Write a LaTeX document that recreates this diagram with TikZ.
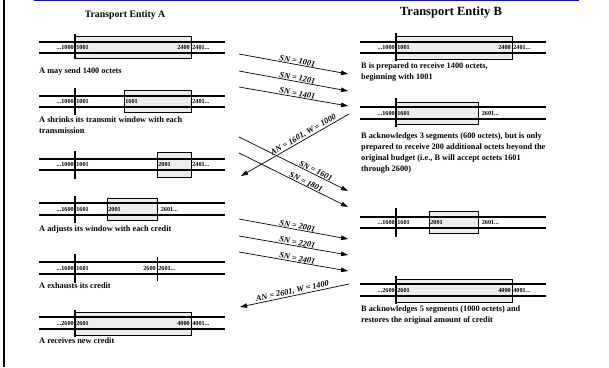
\documentclass[tikz,border=0pt]{standalone}
\usepackage{fontspec}
\setmainfont{Liberation Serif}
\usetikzlibrary{arrows.meta}
\begin{document}
\begin{tikzpicture}[x=1pt,y=-1pt,
  trk/.style={line width=1.2pt},
  barline/.style={line width=1.5pt},
  win/.style={draw,line width=0.7pt,fill=gray!15},
  num/.style={font=\fontsize{6.2}{7}\selectfont\bfseries,inner sep=0.6pt},
  capt/.style={font=\fontsize{8.3}{11}\selectfont\bfseries,anchor=base west,align=left,inner sep=0pt},
  msg/.style={line width=0.7pt,-{Triangle[length=7pt,width=4.5pt]}},
  msgrev/.style={line width=0.7pt,{Triangle[length=7pt,width=4.5pt]}-},
  mlab/.style={font=\fontsize{8.3}{9}\selectfont\bfseries\itshape,sloped,above,inner sep=0.6pt},
  ttl/.style={font=\bfseries}]
\useasboundingbox (0,0) rectangle (609,367);
\fill[white] (0,0) rectangle (609,367);
% frame pieces
\coordinate (fl1) at (3.5,0); \coordinate (fl2) at (3.5,367);
\draw[line width=2pt] (fl1) -- (fl2);
\coordinate (fb1) at (34,0.7); \coordinate (fb2) at (579,0.7);
\draw[blue,line width=1.4pt] (fb1) -- (fb2);
% titles
\node[ttl,font=\fontsize{9.8}{11}\selectfont\bfseries] (tA) at (125,15) {Transport Entity A};
\node[ttl,font=\fontsize{12.5}{14}\selectfont\bfseries] (tB) at (451,13) {Transport Entity B};

% ---------- A side ----------
% A1
\draw[win] (75,36) rectangle (191,58);
\draw[trk] (39,42) -- (225,42); \draw[trk] (39,53) -- (225,53);
\draw[barline] (75,34) -- (75,59);
\node[num,anchor=base east] (a1l) at (74.5,49.8) {...1000};
\node[num,anchor=base west] (a1r) at (75.5,49.8) {1001};
\node[num,anchor=base east] (a1e) at (190.5,49.8) {2400};
\node[num,anchor=base west] (a1f) at (191.5,49.8) {2401...};
\node[capt] (ca1) at (39,73) {A may send 1400 octets};
% A2
\draw[win] (124,90) rectangle (191,112);
\draw[trk] (39,96) -- (225,96); \draw[trk] (39,107) -- (225,107);
\draw[barline] (75,88) -- (75,115);
\node[num,anchor=base east] (a2l) at (74.5,103.8) {...1000};
\node[num,anchor=base west] (a2r) at (75.5,103.8) {1001};
\node[num,anchor=base west] (a2m) at (124.5,103.8) {1601};
\node[num,anchor=base west] (a2f) at (191.5,103.8) {2401...};
\node[capt] (ca2) at (39,133) {A shrinks its transmit window with each\\transmission};
% A3
\draw[win] (157,152) rectangle (191,177);
\draw[trk] (39,159) -- (225,159); \draw[trk] (39,170) -- (225,170);
\draw[barline] (75,151) -- (75,179);
\node[num,anchor=base east] (a3l) at (74.5,166.8) {...1000};
\node[num,anchor=base west] (a3r) at (75.5,166.8) {1001};
\node[num,anchor=base west] (a3m) at (157.5,166.8) {2001};
\node[num,anchor=base west] (a3f) at (191.5,166.8) {2401...};
% A4
\draw[win] (107,198) rectangle (157,220);
\draw[trk] (39,203) -- (225,203); \draw[trk] (39,215) -- (225,215);
\draw[barline] (75,196) -- (75,223);
\node[num,anchor=base east] (a4l) at (74.5,211.3) {...1600};
\node[num,anchor=base west] (a4r) at (75.5,211.3) {1601};
\node[num,anchor=base west] (a4m) at (107.5,211.3) {2001};
\node[num,anchor=base west] (a4f) at (160,211.3) {2601...};
\node[capt] (ca4) at (39,231) {A adjusts its window with each credit};
% A5
\draw[trk] (39,262) -- (225,262); \draw[trk] (39,274) -- (225,274);
\draw[barline] (75,254) -- (75,283);
\draw[line width=0.9pt] (157,257) -- (157,281);
\node[num,anchor=base east] (a5l) at (74.5,270.3) {...1600};
\node[num,anchor=base west] (a5r) at (75.5,270.3) {1601};
\node[num,anchor=base east] (a5e) at (156.5,270.3) {2600};
\node[num,anchor=base west] (a5f) at (157.5,270.3) {2601...};
\node[capt] (ca5) at (39,288) {A exhausts its credit};
% A6
\draw[win] (75,312) rectangle (191,335);
\draw[trk] (39,317) -- (225,317); \draw[trk] (39,329) -- (225,329);
\draw[barline] (75,310) -- (75,337);
\node[num,anchor=base east] (a6l) at (74.5,325.3) {...2600};
\node[num,anchor=base west] (a6r) at (75.5,325.3) {2601};
\node[num,anchor=base east] (a6e) at (190.5,325.3) {4000};
\node[num,anchor=base west] (a6f) at (191.5,325.3) {4001...};
\node[capt] (ca6) at (39,343) {A receives new credit};

% ---------- B side ----------
% B1
\draw[win] (396,36) rectangle (512,59);
\draw[trk] (360,42) -- (546,42); \draw[trk] (360,53) -- (546,53);
\draw[barline] (396,33) -- (396,61);
\node[num,anchor=base east] (b1l) at (395.5,49.8) {...1000};
\node[num,anchor=base west] (b1r) at (396.5,49.8) {1001};
\node[num,anchor=base east] (b1e) at (511.5,49.8) {2400};
\node[num,anchor=base west] (b1f) at (512.5,49.8) {2401...};
\node[capt] (cb1) at (361,79) {B is prepared to receive 1400 octets,\\beginning with 1001};
% B2
\draw[win] (396,102) rectangle (478,124);
\draw[line width=1.6pt] (360,107) -- (546,107); \draw[trk] (360,119) -- (546,119);
\draw[barline] (396,98) -- (396,127);
\node[num,anchor=base east] (b2l) at (395.5,115.3) {...1600};
\node[num,anchor=base west] (b2r) at (396.5,115.3) {1601};
\node[num,anchor=base west] (b2f) at (481,115.3) {2601...};
\node[capt] (cb2) at (361,171) {B acknowledges 3 segments (600 octets), but is only\\prepared to receive 200 additional octets beyond the\\original budget (i.e., B will accept octets 1601\\through 2600)};
% B3
\draw[win] (429,211) rectangle (478,233);
\draw[trk] (360,217) -- (546,217); \draw[trk] (360,228) -- (546,228);
\draw[barline] (396,208) -- (396,237);
\node[num,anchor=base east] (b3l) at (395.5,224.8) {...1600};
\node[num,anchor=base west] (b3r) at (396.5,224.8) {1601};
\node[num,anchor=base west] (b3m) at (429.5,224.8) {2001};
\node[num,anchor=base west] (b3f) at (481,224.8) {2601...};
% B4
\draw[win] (396,279) rectangle (512,302);
\draw[trk] (360,284) -- (546,284); \draw[trk] (360,296) -- (546,296);
\draw[barline] (396,276) -- (396,304);
\node[num,anchor=base east] (b4l) at (395.5,292.3) {...2600};
\node[num,anchor=base west] (b4r) at (396.5,292.3) {2601};
\node[num,anchor=base east] (b4e) at (511.5,292.3) {4000};
\node[num,anchor=base west] (b4f) at (512.5,292.3) {4001...};
\node[capt] (cb4) at (361,322) {B acknowledges 5 segments (1000 octets) and\\restores the original amount of credit};

% ---------- messages ----------
\coordinate (s1a) at (239,54);  \coordinate (s1b) at (348,74);
\coordinate (s2a) at (239,71);  \coordinate (s2b) at (348,91);
\coordinate (s3a) at (239,87);  \coordinate (s3b) at (348,106);
\coordinate (k1a) at (349,114); \coordinate (k1b) at (241,176);
\coordinate (s4a) at (239,137); \coordinate (s4b) at (348,191);
\coordinate (s5a) at (239,153); \coordinate (s5b) at (348,207);
\coordinate (s6a) at (239,219); \coordinate (s6b) at (348,239);
\coordinate (s7a) at (239,236); \coordinate (s7b) at (348,255);
\coordinate (s8a) at (239,252); \coordinate (s8b) at (348,271);
\coordinate (k2a) at (349,284); \coordinate (k2b) at (240,307);
\draw[msg] (s1a) -- node[mlab,pos=0.53] (l1) {SN = 1001} (s1b);
\draw[msg] (s2a) -- node[mlab,pos=0.53] (l2) {SN = 1201} (s2b);
\draw[msg] (s3a) -- node[mlab,pos=0.53] (l3) {SN = 1401} (s3b);
\draw[msgrev] (k1b) -- node[mlab,pos=0.6] (lk1) {AN = 1601, W = 1000} (k1a);
\draw[msg] (s4a) -- node[mlab,pos=0.69] (l4) {SN = 1601} (s4b);
\draw[msg] (s5a) -- node[mlab,pos=0.6] (l5) {SN = 1801} (s5b);
\draw[msg] (s6a) -- node[mlab,pos=0.53] (l6) {SN = 2001} (s6b);
\draw[msg] (s7a) -- node[mlab,pos=0.53] (l7) {SN = 2201} (s7b);
\draw[msg] (s8a) -- node[mlab,pos=0.53] (l8) {SN = 2401} (s8b);
\draw[msgrev] (k2b) -- node[mlab,pos=0.49] (lk2) {AN = 2601, W = 1400} (k2a);
\end{tikzpicture}
\end{document}
